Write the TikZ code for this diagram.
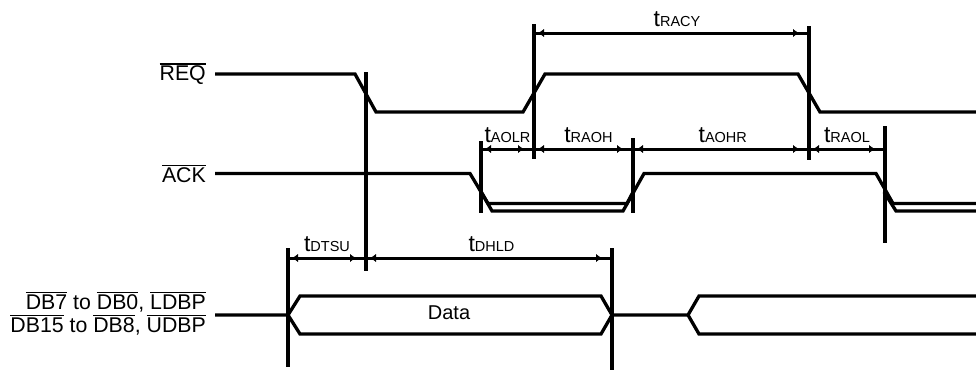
\documentclass[tikz,border=0pt]{standalone}
\usepackage{fontspec}
\setmainfont{Liberation Sans}
\usetikzlibrary{positioning,arrows.meta,decorations.markings}
\tikzset{>={Latex[length=6pt,width=8pt]}}
\tikzstyle{signal}=[line width=3.3pt, line join=miter, black]
\tikzstyle{marker}=[line width=3.3pt, black]
\tikzstyle{signame}=[font=\fontsize{21.3}{23}\selectfont, text=black, align=right, inner sep=0pt]
\tikzstyle{timing}=[text=black, inner sep=0pt, above=5pt, anchor=south]
\tikzstyle{dimline}=[line width=3pt, black, line cap=rect]
\tikzstyle{dimtips}=[black, postaction={decorate}, decoration={markings,
    mark=at position 10pt with {\arrow{<}}, mark=at position -10pt with {\arrow{>}}}]
\newcommand{\sigbar}[1]{\leavevmode\vbox{\hrule height 1.3pt \kern 1.2pt \hbox{#1}}}
\newcommand{\tsub}[1]{{\fontsize{23}{23}\selectfont t}{\fontsize{14.5}{14.5}\selectfont #1}}
\begin{document}
\begin{tikzpicture}[x=1pt,y=-1pt]
    \useasboundingbox (0,0) rectangle (976,370);

    \foreach \name/\x/\ytop/\ybot in {mReqFall/366/72/271, mReqRise/534/24/159, mReqEnd/809/26/160,
        mAckFall/481/141/213, mAckRise/633/138/213, mAckEnd/885/126/243,
        mDataOn/288/248/367, mDataOff/612/248/370}{
        \coordinate (\name) at (\x,\ytop);
        \coordinate (\name b) at (\x,\ybot);
        \draw [marker] (\name) -- (\name b);
    };

    \coordinate (rowA) at (0,33);
    \coordinate (rowB) at (0,149);
    \coordinate (rowC) at (0,258);

    % waveforms
    \coordinate (reqStart) at (215,74);
    \coordinate (ackStart) at (215,173.5);
    \coordinate (dataStart) at (215,315);
    \draw [signal] (reqStart) -- (355,74) -- (376,112) -- (523,112) -- (545,74) -- (798,74) -- (820,112) -- (976,112);
    \draw [signal] (ackStart) -- (470,173.5) -- (488,203.5) -- (627,203.5) -- (633,192);
    \draw [signal] (479,188) -- (492,211) -- (623,211) -- (644,173.5) -- (876,173.5) -- (893,203.5) -- (976,203.5);
    \draw [signal] (884,192) -- (896,211) -- (976,211);
    \draw [signal] (dataStart) -- (288,315) -- (300,296) -- (601,296) -- (612,315) -- (601,334) -- (300,334) -- (288,315);
    \draw [signal] (612,315) -- (688,315) -- (699,296) -- (976,296);
    \draw [signal] (688,315) -- (699,334) -- (976,334);

    \node (reqLabel) [signame, left=9pt of reqStart] {\sigbar{REQ}};
    \node (ackLabel) [signame, left=9pt of ackStart] {\sigbar{ACK}};
    \node (dataLabel) [signame, left=9pt of dataStart, yshift=1.5pt] {\sigbar{DB7} to \sigbar{DB0}, \sigbar{LDBP}\\\sigbar{DB15} to \sigbar{DB8}, \sigbar{UDBP}};
    \node (dataText) at (449,313) [font=\fontsize{20}{20}\selectfont, inner sep=0pt] {Data};

    % timing spans
    \foreach \from/\to/\row/\sub/\where in {mReqRise/mReqEnd/rowA/RACY/.52, mAckFall/mReqRise/rowB/AOLR/.5,
        mReqRise/mAckRise/rowB/RAOH/.55, mAckRise/mReqEnd/rowB/AOHR/.51, mReqEnd/mAckEnd/rowB/RAOL/.5,
        mDataOn/mReqFall/rowC/DTSU/.5, mReqFall/mDataOff/rowC/DHLD/.51}{
        \draw [dimline] (\from|-\row) -- node (t\sub) [timing, pos=\where] {\tsub{\sub}} (\to|-\row);
        \path [dimtips] (\from|-\row) -- (\to|-\row);
    };
\end{tikzpicture}
\end{document}
